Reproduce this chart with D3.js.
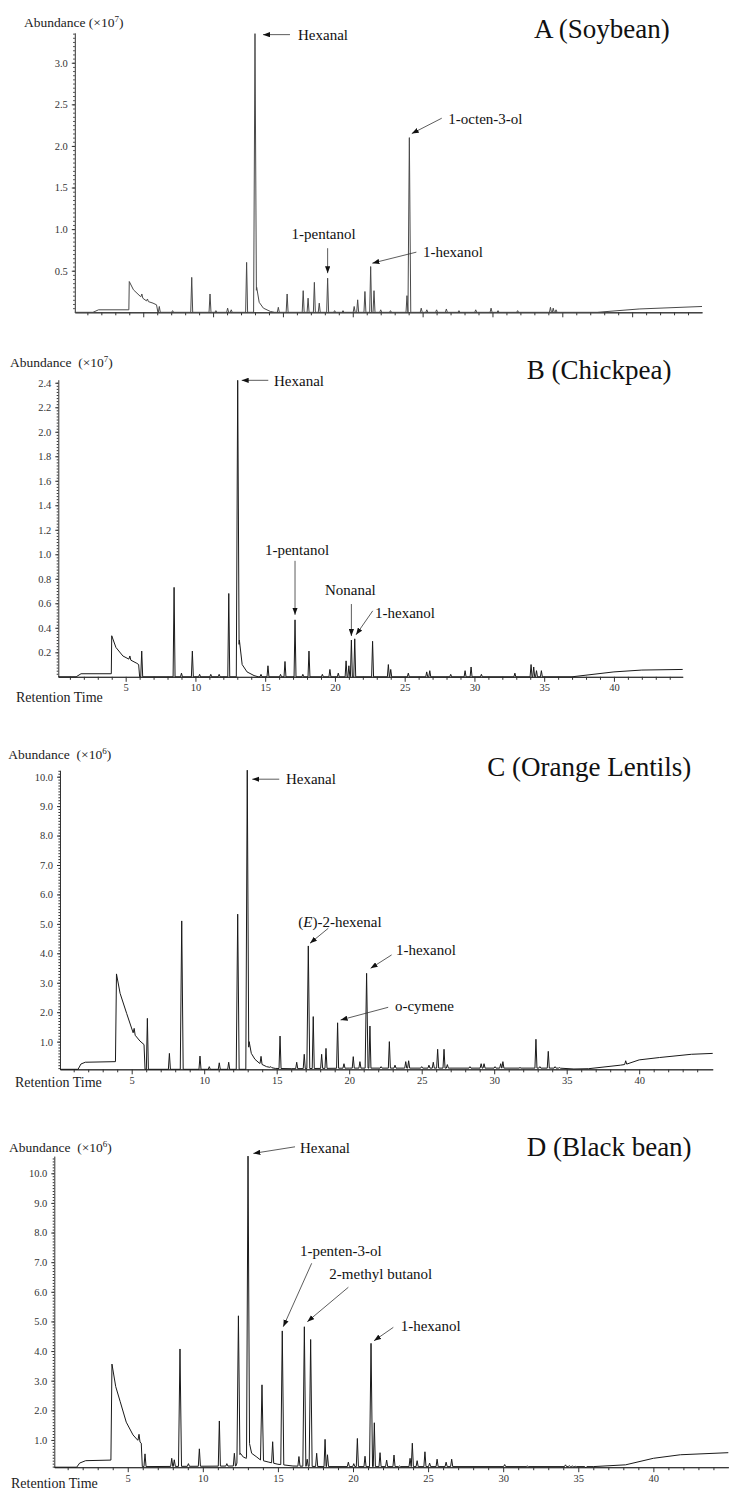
<!DOCTYPE html>
<html>
<head>
<meta charset="utf-8">
<script src="https://cdn.jsdelivr.net/npm/d3@7"></script>
<style>
  body { margin: 0; background: #fff; }
  svg { display: block; font-family: "Liberation Serif", "Times New Roman", serif; }
  .tick text { fill: #333; }
</style>
</head>
<body>
<div id="chart"></div>
<script>
// ================================================
// DATA (time in min)
// ================================================

// A (Soybean), abundance x10^7
const soyBase = [[0.1,0],[1.4,0],[1.8,0.03],[3.97,0.03],[4.0,0.37],[4.3,0.27],[4.8,0.19],[5.25,0.135],[5.7,0.11],[5.95,0.09],[6.05,0],
  [12.95,0],[13.12,0.3],[13.3,0.12],[13.6,0.05],[14.1,0.01],[14.4,0],[37.5,0],[40.5,0.04],[45,0.07]];
const soyPeaks = [[4.9,0.22],[5.3,0.16],[6.15,0.07],[7.1,0.02],[8.47,0.42],[9.78,0.22],[10.2,0.02],[11.04,0.05],[11.3,0.03],
  [12.4,0.6],[13.0,3.35],[14.67,0.06],[15.3,0.22],[16.45,0.26],[16.8,0.17],[17.25,0.36],[17.6,0.11],[18.2,0.41],
  [18.7,0.02],[19.3,0.02],[20.1,0.07],[20.35,0.15],[20.87,0.25],[21.28,0.55],[21.52,0.26],[22.0,0.03],[22.7,0.02],
  [23.88,0.2],[24.05,2.1],[24.9,0.05],[25.3,0.03],[26.0,0.03],[26.7,0.04],[27.6,0.02],[28.8,0.03],[29.9,0.05],
  [30.4,0.02],[31.8,0.02],[34.15,0.06],[34.35,0.05],[34.55,0.03]];
const soyTicks = [0.5, 1.0, 1.5, 2.0, 2.5, 3.0];
const soyLabels = [["Hexanal", 13.0, 3.35], ["1-octen-3-ol", 24.05, 2.1], ["1-pentanol", 18.2, 0.41], ["1-hexanol", 21.28, 0.55]];

// B (Chickpea), abundance x10^7
const chickBase = [[0.17,0],[1.45,0],[1.8,0.025],[3.97,0.025],[4.0,0.335],[4.3,0.24],[4.8,0.17],[5.3,0.14],[5.8,0.11],[5.93,0.1],[6.0,0],
  [12.98,0],[13.15,0.3],[13.35,0.1],[13.7,0.04],[14.2,0.01],[14.5,0],[37,0],[40,0.04],[42,0.055],[44.93,0.06]];
const chickPeaks = [[5.3,0.17],[6.15,0.21],[8.47,0.73],[9.0,0.03],[9.78,0.21],[10.3,0.02],[11.1,0.02],[11.7,0.02],
  [12.39,0.68],[13.03,2.42],[14.7,0.02],[15.2,0.09],[16.1,0.02],[16.42,0.125],[17.14,0.465],[17.7,0.02],[18.14,0.21],
  [19.1,0.02],[19.64,0.06],[20.24,0.03],[20.8,0.13],[21.0,0.09],[21.18,0.3],[21.42,0.31],[22.7,0.29],[23.83,0.1],
  [24.0,0.06],[25.26,0.03],[26.58,0.04],[26.8,0.05],[28.3,0.02],[29.33,0.05],[29.76,0.08],[30.5,0.02],[32.9,0.03],
  [34.06,0.1],[34.25,0.08],[34.45,0.05],[34.8,0.05]];
const chickTicks = [0.2, 0.4, 0.6, 0.8, 1.0, 1.2, 1.4, 1.6, 1.8, 2.0, 2.2, 2.4];
const chickLabels = [["Hexanal", 13.03, 2.42], ["1-pentanol", 17.14, 0.465], ["Nonanal", 21.18, 0.3], ["1-hexanol", 21.42, 0.31]];

// C (Orange Lentils), abundance x10^6
const lentilBase = [[0.055,0.06],[1.3,0.06],[1.5,0.24],[1.8,0.3],[3.88,0.32],[3.95,3.3],[4.2,2.64],[4.65,1.96],[5.1,1.3],
  [5.57,1.02],[5.85,0.9],[5.92,0.06],[12.95,0.06],[13.1,1.0],[13.25,0.6],[13.5,0.4],[13.8,0.27],[14.3,0.15],[14.9,0.09],
  [16,0.08],[20,0.1],[30,0.1],[34.5,0.1],[35.5,0.07],[36.5,0.08],[38.7,0.2],[39.1,0.23],[40,0.38],[41.4,0.46],
  [43.6,0.57],[45.07,0.6]];
const lentilPeaks = [[5.17,1.45],[6.08,1.79],[7.6,0.6],[8.45,5.1],[9.71,0.51],[10.35,0.15],[11.04,0.28],[11.69,0.3],
  [12.31,5.33],[12.97,10.22],[13.92,0.5],[14.6,0.15],[15.23,1.19],[16.38,0.3],[16.9,0.57],[17.18,4.25],[17.52,1.85],
  [18.1,0.57],[18.4,0.77],[19.2,1.64],[19.64,0.25],[20.28,0.49],[20.74,0.32],[21.2,3.32],[21.43,1.53],[22.2,0.15],
  [22.77,1.0],[23.16,0.2],[23.9,0.32],[24.1,0.35],[25.0,0.15],[25.5,0.2],[25.8,0.3],[26.1,0.74],[26.54,0.74],
  [26.77,0.22],[28.33,0.15],[29.1,0.25],[29.3,0.25],[30.06,0.15],[30.45,0.25],[30.6,0.32],[31.78,0.12],[32.88,1.08],
  [33.15,0.15],[33.73,0.67],[34.2,0.15],[34.5,0.12],[39.07,0.35]];
const lentilTicks = [1, 2, 3, 4, 5, 6, 7, 8, 9, 10];
const lentilLabels = [["Hexanal", 12.97, 10.22], ["(E)-2-hexenal", 17.18, 4.25], ["1-hexanol", 21.2, 3.32], ["o-cymene", 19.2, 1.64]];

// D (Black bean), abundance x10^6
const blackBase = [[0.11,0.08],[1.6,0.08],[1.8,0.22],[2.2,0.3],[3.88,0.32],[3.95,3.56],[4.2,2.8],[4.5,2.29],[4.9,1.6],
  [5.35,1.17],[5.65,1.0],[5.9,0.89],[5.97,0.1],[12.2,0.12],[12.5,0.55],[12.7,0.42],[12.9,0.38],[13.1,0.9],[13.25,0.55],
  [13.6,0.42],[13.85,0.32],[14.4,0.25],[15.0,0.18],[16.0,0.12],[18,0.1],[36,0.1],[38.15,0.16],[40,0.38],[41.8,0.5],[44.99,0.57]];
const blackPeaks = [[5.75,1.19],[6.15,0.53],[7.93,0.38],[8.1,0.33],[8.48,4.07],[9.04,0.2],[9.77,0.7],[11.1,1.64],
  [11.6,0.2],[12.1,0.55],[12.37,5.19],[13.01,10.58],[13.94,2.86],[14.65,0.94],[15.29,4.68],[16.4,0.44],[16.76,4.82],
  [16.95,0.35],[17.18,4.39],[17.58,0.55],[18.14,1.02],[18.3,0.5],[19.69,0.25],[20.05,0.2],[20.29,1.05],[20.8,0.45],
  [21.2,4.26],[21.42,1.58],[21.8,0.57],[22.24,0.32],[22.73,0.49],[23.1,0.12],[23.8,0.38],[23.95,0.89],[24.27,0.3],
  [24.79,0.6],[25.1,0.22],[25.6,0.35],[26.2,0.25],[26.57,0.35],[30.1,0.17],[31.6,0.12],[34.15,0.16],[34.4,0.13],
  [34.6,0.12],[34.8,0.11],[35.5,0.06]];
const blackTicks = [1, 2, 3, 4, 5, 6, 7, 8, 9, 10];
const blackLabels = [["Hexanal", 13.01, 10.58], ["1-penten-3-ol", 15.29, 4.68], ["2-methyl butanol", 16.76, 4.82], ["1-hexanol", 21.2, 4.26]];

const timeLabels = [5, 10, 15, 20, 25, 30, 35, 40];

// ================================================
// LAYOUT
// ================================================
const W = 737, H = 1506;
const serif = '"Liberation Serif", "Times New Roman", serif';

// label offsets: [tip dx,dy], [tail dx,dy], [text dx,dy], anchor  (px from peak top)
const panels = [
  { title: "A (Soybean)", titleXY: [534, 38], exp: "7", sep: " ", base: soyBase, peaks: soyPeaks, ticks: soyTicks, minor: 0.05,
    labels: soyLabels, xDom: [0.1, 45], xRange: [74.8, 702], yDom: [0, 3.36], yRange: [312.3, 32.8],
    ylabXY: [24, 26.7], rtXY: null, showX: false, stroke: "#4a4a4a",
    offs: [[[8,1],[35,1],[43,1],"start"], [[2.4,-4],[32.4,-19.4],[39,-18.4],"start"], [[0,-5],[0,-30],[-4,-44],"middle"], [[1.7,-3.4],[45.7,-14.4],[52.3,-14.4],"start"]] },
  { title: "B (Chickpea)", titleXY: [526.7, 379], exp: "7", sep: "\u00a0\u00a0", base: chickBase, peaks: chickPeaks, ticks: chickTicks, minor: 0.025,
    labels: chickLabels, xDom: [0.17, 44.93], xRange: [58.3, 682.7], yDom: [0, 2.425], yRange: [676.8, 379.7],
    ylabXY: [10, 366.7], rtXY: [16, 702], showX: true, stroke: "#1a1a1a",
    offs: [[[4,0],[30.6,0],[36.3,0],"start"], [[0,-5],[0,-59],[2,-70],"middle"], [[0,-4],[0,-36],[-1,-50],"middle"], [[1.3,-4],[18,-28],[20.3,-26],"start"]] },
  { title: "C (Orange Lentils)", titleXY: [487.3, 775.5], exp: "6", sep: "\u00a0\u00a0", base: lentilBase, peaks: lentilPeaks, ticks: lentilTicks, minor: 0.1,
    labels: lentilLabels, xDom: [0.055, 45.07], xRange: [60, 712.7], yDom: [0.06, 10.22], yRange: [1069.3, 770.2],
    ylabXY: [8.3, 759.3], rtXY: [15, 1086.5], showX: true, stroke: "#1a1a1a",
    offs: [[[5,9],[32,9],[38.7,9],"start"], [[1.7,-2.7],[20,-17.7],[-10,-24.3],"start"], [[4,-5],[25,-18.4],[29.3,-23.4],"start"], [[3,-2.8],[50.6,-15.5],[57.3,-16.8],"start"]] },
  { title: "D (Black bean)", titleXY: [526.7, 1155.5], exp: "6", sep: "\u00a0\u00a0", base: blackBase, peaks: blackPeaks, ticks: blackTicks, minor: 0.1,
    labels: blackLabels, xDom: [0.11, 44.99], xRange: [54.3, 728.3], yDom: [0.08, 10.58], yRange: [1467.2, 1156.1],
    ylabXY: [9, 1151.7], rtXY: [11, 1488], showX: true, stroke: "#1a1a1a",
    offs: [[[5.3,-2.7],[47,-9.3],[52,-8.7],"start"], [[1,-4.2],[29.4,-67.6],[17.7,-80.2],"start"], [[3,-5.1],[44,-39.5],[25,-52.8],"start"], [[3,-2.6],[22.3,-16],[29.7,-17.3],"start"]] }
];

const svg = d3.select("#chart").append("svg")
  .attr("width", W).attr("height", H)
  .attr("viewBox", [0, 0, W, H]);

svg.append("defs").append("marker")
  .attr("id", "arrow")
  .attr("viewBox", "0 0 8 6")
  .attr("refX", 8).attr("refY", 3)
  .attr("markerWidth", 7).attr("markerHeight", 5.5)
  .attr("markerUnits", "userSpaceOnUse")
  .attr("orient", "auto")
  .append("path").attr("d", "M0,0L8,3L0,6Z").attr("fill", "#111");

// baseline lookup (linear between the read points)
function baseAt(base, t) {
  const i = d3.bisector(d => d[0]).right(base, t);
  if (i <= 0) return base[0][1];
  if (i >= base.length) return base[base.length - 1][1];
  const a = base[i - 1], b = base[i];
  return a[1] + (b[1] - a[1]) * (t - a[0]) / (b[0] - a[0]);
}

// build the trace: baseline profile + narrow triangular peaks
function buildTrace(base, peaks) {
  const spans = peaks.map(([t, h]) => [t, h, h > 2 ? 0.1 : 0.07]);
  const pts = base.filter(([t]) => !spans.some(([pt, , w]) => t > pt - w && t < pt + w)).map(d => d.slice());
  spans.forEach(([t, h, w]) => {
    pts.push([t - w, baseAt(base, t - w)], [t, h], [t + w, baseAt(base, t + w)]);
  });
  return pts.sort((a, b) => a[0] - b[0]);
}

// d3 axes default to sans-serif; put them back on the serif face
function serifAxis(a) {
  a.attr("font-family", serif).attr("font-size", 10.5);
}

panels.forEach(p => {
  const g = svg.append("g");
  const x = d3.scaleLinear().domain(p.xDom).range(p.xRange);
  const y = d3.scaleLinear().domain(p.yDom).range(p.yRange);
  const y0 = p.yRange[0];

  // x axis: minor ticks each minute, labelled every 5
  const minorT = d3.range(1, Math.floor(p.xDom[1]) + 1).filter(d => d % 5 !== 0);
  g.append("g").attr("transform", `translate(0,${y0})`)
    .call(d3.axisBottom(x).tickValues(minorT).tickSize(3).tickSizeOuter(0).tickFormat(""));
  g.append("g").attr("transform", `translate(0,${y0})`)
    .call(d3.axisBottom(x).tickValues(timeLabels).tickSize(5).tickSizeOuter(0).tickPadding(2)
      .tickFormat(p.showX ? d3.format("d") : ""))
    .call(serifAxis);

  // y axis
  const minorY = d3.range(p.minor, p.yDom[1], p.minor).filter(v => v > p.yDom[0]);
  g.append("g").attr("transform", `translate(${p.xRange[0]},0)`)
    .call(d3.axisLeft(y).tickValues(minorY).tickSize(1.6).tickSizeOuter(0).tickFormat(""))
    .call(a => a.select(".domain").remove());
  g.append("g").attr("transform", `translate(${p.xRange[0]},0)`)
    .call(d3.axisLeft(y).tickValues(p.ticks).tickSize(3).tickSizeOuter(0).tickPadding(4).tickFormat(d3.format(".1f")))
    .call(serifAxis);

  g.selectAll(".domain, .tick line").attr("stroke", "#333");

  // chromatogram trace
  const line = d3.line().x(d => x(d[0])).y(d => y(d[1]));
  g.append("path")
    .datum(buildTrace(p.base, p.peaks))
    .attr("d", line)
    .attr("fill", "none")
    .attr("stroke", p.stroke)
    .attr("stroke-width", 1)
    .attr("stroke-linejoin", "round");

  // axis captions
  const yl = g.append("text").attr("x", p.ylabXY[0]).attr("y", p.ylabXY[1])
    .attr("fill", "#222").style("font-size", "13.5px");
  yl.append("tspan").text("Abundance" + p.sep + "(×10");
  yl.append("tspan").attr("dy", -5).style("font-size", "9px").text(p.exp);
  yl.append("tspan").attr("dy", 5).text(")");

  if (p.rtXY) {
    g.append("text").attr("x", p.rtXY[0]).attr("y", p.rtXY[1])
      .attr("fill", "#222").style("font-size", "14px").text("Retention Time");
  }

  // title
  g.append("text").attr("x", p.titleXY[0]).attr("y", p.titleXY[1])
    .attr("fill", "#111").style("font-size", "27px").text(p.title);

  // compound labels with arrows
  p.labels.forEach(([name, t, v], i) => {
    const [tip, tail, txt, anchor] = p.offs[i];
    const px = x(t), py = y(v);
    g.append("line")
      .attr("x1", px + tail[0]).attr("y1", py + tail[1])
      .attr("x2", px + tip[0]).attr("y2", py + tip[1])
      .attr("stroke", "#333").attr("stroke-width", 0.8)
      .attr("marker-end", "url(#arrow)");
    const tx = g.append("text")
      .attr("x", px + txt[0]).attr("y", py + txt[1])
      .attr("dy", "0.35em")
      .attr("text-anchor", anchor)
      .attr("fill", "#111")
      .style("font-size", "15px");
    if (name.startsWith("(E)")) {
      tx.append("tspan").text("(");
      tx.append("tspan").style("font-style", "italic").text("E");
      tx.append("tspan").text(name.slice(2));
    } else {
      tx.text(name);
    }
  });
});
</script>
</body>
</html>
